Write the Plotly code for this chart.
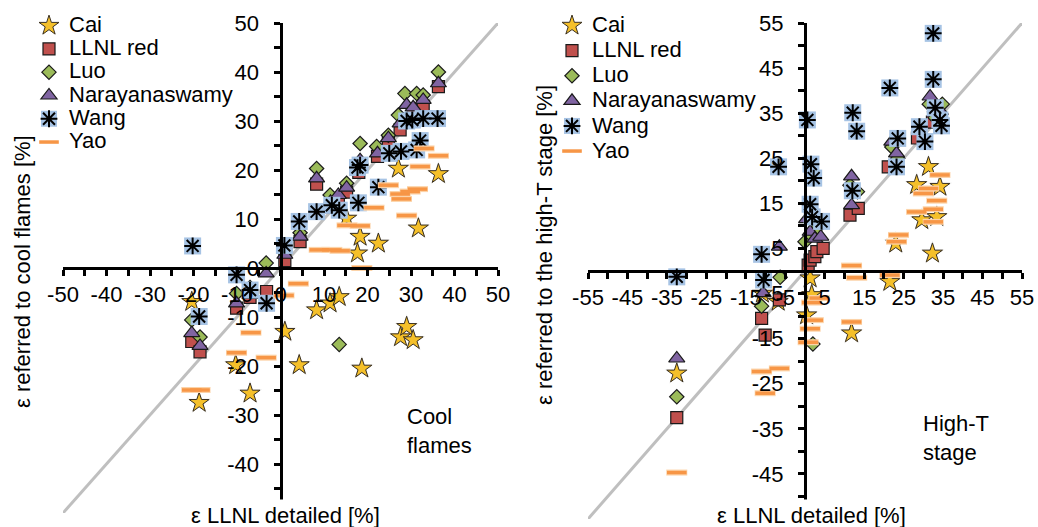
import plotly.graph_objects as go

W, H = 1038, 527
FONT = "Liberation Sans, Arial, sans-serif"

# ---------------- data: cool flames (left) ----------------
cf_cai_x = [-20.4, -18.7, -10.3, -7.0, 1.0, 4.3, 8.3, 11.4, 13.5, 15.2, 17.7, 18.3, 18.7, 22.5, 27.1, 27.6, 29.0, 30.5, 31.7, 36.3]
cf_cai_y = [-6.9, -27.5, -19.8, -25.6, -13.0, -19.8, -8.6, -7.2, -5.9, 10.1, 3.0, 6.4, -20.5, 5.0, 20.3, -14.1, -12.0, -14.7, 8.1, 19.2]

cf_llnl_x = [-20.4, -18.5, -10.1, -7.0, -3.2, 1.0, 4.5, 8.3, 11.5, 13.3, 15.2, 18.0, 22.3, 24.8, 27.5, 29.0, 30.5, 32.8, 36.3]
cf_llnl_y = [-15.0, -17.1, -8.2, -6.0, -4.8, 1.5, 5.4, 17.1, 12.5, 13.5, 15.5, 19.5, 22.8, 26.0, 28.2, 30.5, 32.0, 33.0, 37.0]

cf_luo_x = [-20.4, -18.5, -10.1, -7.0, -3.3, 1.0, 4.5, 8.3, 11.4, 13.5, 15.2, 18.3, 22.1, 24.8, 27.1, 28.6, 31.3, 32.8, 36.3]
cf_luo_y = [-10.6, -14.1, -5.2, -4.0, 1.0, 4.0, 7.2, 20.3, 14.9, -15.6, 17.3, 25.4, 24.8, 27.1, 31.2, 35.6, 35.6, 35.3, 40.0]

cf_nara_x = [-20.4, -18.5, -10.1, -7.0, -3.3, 1.0, 4.5, 8.3, 11.5, 13.3, 15.2, 18.3, 22.3, 24.8, 27.5, 29.0, 30.5, 32.8, 36.3]
cf_nara_y = [-13.3, -15.9, -7.2, -5.5, -1.1, 2.7, 6.4, 18.3, 13.5, 14.9, 16.4, 22.0, 23.4, 26.5, 29.5, 33.3, 32.8, 34.3, 37.7]

cf_wang_x = [-20.2, -18.7, -10.1, -7.0, -3.2, 0.9, 4.3, 8.3, 11.8, 13.5, 17.9, 17.7, 18.3, 22.5, 25.0, 27.7, 29.0, 30.3, 31.3, 32.1, 32.8, 36.1]
cf_wang_y = [4.5, -9.9, -1.4, -4.5, -7.2, 4.6, 9.5, 11.5, 12.8, 11.8, 13.3, 20.5, 21.0, 16.5, 23.4, 23.8, 30.0, 30.2, 24.1, 26.0, 30.5, 30.5]

cf_yao_x = [-20.4, -18.5, -10.1, -6.8, -3.3, 0.8, 4.1, 8.9, 11.8, 13.7, 15.3, 18.3, 18.7, 21.5, 24.8, 27.5, 27.8, 29.0, 29.8, 31.5, 32.1, 33.0, 36.3]
cf_yao_y = [-24.9, -24.9, -17.3, -13.2, -18.3, -5.6, -3.2, 3.7, 3.7, 3.5, 8.7, 8.6, 0.0, 12.3, 16.9, 15.1, 14.1, 10.7, 15.6, 16.1, 20.7, 24.4, 22.9]

# ---------------- data: high-T stage (right) ----------------
ht_cai_x = [-32.5, -10.8, -6.8, 0.4, 1.3, 1.7, 11.8, 21.5, 23.0, 28.3, 29.6, 31.3, 32.3, 33.4, 34.2]
ht_cai_y = [-22.7, -5.0, -6.8, -9.8, -1.6, -5.3, -13.8, -2.4, 6.1, 19.1, 11.3, 23.1, 3.9, 12.0, 18.7]

ht_llnl_x = [-32.5, -11.0, -10.1, -6.5, 0.8, 1.3, 2.5, 3.0, 4.6, 11.4, 13.5, 21.1, 28.5, 32.3, 34.5]
ht_llnl_y = [-32.5, -10.5, -14.2, -6.4, 1.3, 2.4, 3.2, 4.3, 5.0, 12.4, 13.9, 23.1, 29.5, 33.0, 33.5]

ht_luo_x = [-32.5, -11.0, -6.3, 2.0, 0.0, 1.5, 3.0, 11.4, 13.3, 22.0, 23.5, 31.5, 33.0, 34.8]
ht_luo_y = [-27.9, -7.8, -1.4, -16.2, 6.5, 8.0, 9.5, 19.0, 17.6, 27.5, 25.0, 37.0, 34.0, 37.0]

ht_nara_x = [-32.5, -10.6, -6.5, 0.4, 1.3, 2.5, 4.0, 11.8, 11.8, 22.0, 23.2, 31.7, 33.0, 34.3]
ht_nara_y = [-19.4, -4.9, 5.4, 11.5, 8.7, 7.2, 7.6, 21.0, 14.6, 28.7, 26.1, 38.7, 36.0, 35.5]

ht_wang_x = [-32.5, -11.0, -10.5, -6.7, 0.6, 1.5, 2.2, 1.3, 1.8, 4.2, 12.1, 13.1, 12.0, 21.5, 23.5, 23.2, 29.0, 30.4, 32.5, 32.5, 33.0, 34.2, 34.6]
ht_wang_y = [-1.3, 3.7, -2.0, 23.1, 33.5, 23.7, 20.6, 14.8, 12.0, 11.0, 35.1, 31.0, 17.8, 40.6, 29.4, 23.1, 32.0, 28.7, 52.7, 42.5, 36.2, 33.5, 32.2]

ht_yao_x = [-32.5, -11.0, -10.1, -6.5, 0.8, 1.3, 2.1, 1.7, 3.6, 11.8, 13.1, 11.8, 21.5, 23.2, 23.7, 28.3, 30.0, 31.3, 32.5, 32.5, 33.4, 34.2]
ht_yao_y = [-44.7, -22.3, -27.1, -21.6, -15.8, -12.8, -10.9, -7.0, -6.0, 1.2, -1.5, -11.3, -0.9, 6.5, 8.0, 13.1, 17.2, 18.3, 13.7, 10.9, 15.6, 21.3]

series_names = ["Cai", "LLNL red", "Luo", "Narayanaswamy", "Wang", "Yao"]
left_range = [-50, 50]
right_range = [-55, 55]
left_xticks = [-50, -40, -30, -20, -10, 0, 10, 20, 30, 40, 50]
left_yticks = [-40, -30, -20, -10, 0, 10, 20, 30, 40, 50]
right_xticks = [-55, -45, -35, -25, -15, -5, 5, 15, 25, 35, 45, 55]
right_yticks = [-45, -35, -25, -15, -5, 5, 15, 25, 35, 45, 55]

OUT = "#1a1a1a"
LEG_FS = [15.6, 17.0]          # legend row-height font sizes (left, right)
LEG_POS = [(29, 9), (552, 8)]  # legend top-left in pixels (left, right)


def legend_name(n):
    return '<span style="font-size:22px">' + n + '</span>'


def add_panel(fig, xa, ya, legend, wang_legend, data, diag):
    (cai, llnl, luo, nara, wang, yao) = data
    fig.add_trace(go.Scatter(x=diag, y=diag, mode="lines", xaxis=xa, yaxis=ya,
                             line=dict(color="#BFBFBF", width=3), showlegend=False, hoverinfo="skip"))
    fig.add_trace(go.Scatter(x=cai[0], y=cai[1], mode="markers", xaxis=xa, yaxis=ya,
                             showlegend=False, hoverinfo="skip",
                             marker=dict(symbol="star", size=18, color="rgba(170,170,170,0.30)",
                                         line=dict(width=0))))
    fig.add_trace(go.Scatter(x=cai[0], y=cai[1], mode="markers", xaxis=xa, yaxis=ya,
                             name=legend_name(series_names[0]), legend=legend,
                             marker=dict(symbol="star", size=15, color="#F5C02A",
                                         line=dict(color="#3a3020", width=1))))
    fig.add_trace(go.Scatter(x=llnl[0], y=llnl[1], mode="markers", xaxis=xa, yaxis=ya,
                             name=legend_name(series_names[1]), legend=legend,
                             marker=dict(symbol="square", size=12, color="#C0504D",
                                         line=dict(color=OUT, width=1.2))))
    fig.add_trace(go.Scatter(x=luo[0], y=luo[1], mode="markers", xaxis=xa, yaxis=ya,
                             name=legend_name(series_names[2]), legend=legend,
                             marker=dict(symbol="diamond", size=11, color="#9BBB59",
                                         line=dict(color=OUT, width=1.2))))
    fig.add_trace(go.Scatter(x=nara[0], y=nara[1], mode="markers", xaxis=xa, yaxis=ya,
                             name=legend_name(series_names[3]), legend=legend,
                             marker=dict(symbol="triangle-up", size=14, color="#8064A2",
                                         line=dict(color=OUT, width=1.2))))
    fig.add_trace(go.Scatter(x=wang[0], y=wang[1], mode="markers", xaxis=xa, yaxis=ya,
                             name=legend_name(series_names[4]), legend=legend,
                             marker=dict(symbol="square", size=17, color="#A6C3E4",
                                         line=dict(width=0))))
    fig.add_trace(go.Scatter(x=wang[0], y=wang[1], mode="markers", xaxis=xa, yaxis=ya,
                             name=" ", legend=wang_legend, hoverinfo="skip",
                             marker=dict(symbol="asterisk-open", size=14, color="#000000",
                                         line=dict(color="#000000", width=2))))
    fig.add_trace(go.Scatter(x=yao[0], y=yao[1], mode="markers", xaxis=xa, yaxis=ya,
                             showlegend=False, hoverinfo="skip",
                             marker=dict(symbol="line-ew-open", size=15, color="#FCD3A8",
                                         line=dict(color="#FCD3A8", width=6))))
    fig.add_trace(go.Scatter(x=yao[0], y=yao[1], mode="markers", xaxis=xa, yaxis=ya,
                             name=legend_name(series_names[5]), legend=legend,
                             marker=dict(symbol="line-ew-open", size=14, color="#F79646",
                                         line=dict(color="#F79646", width=3.5))))


fig = go.Figure()
add_panel(fig, "x", "y", "legend", "legend3",
          [(cf_cai_x, cf_cai_y), (cf_llnl_x, cf_llnl_y), (cf_luo_x, cf_luo_y),
           (cf_nara_x, cf_nara_y), (cf_wang_x, cf_wang_y), (cf_yao_x, cf_yao_y)],
          left_range)
add_panel(fig, "x2", "y2", "legend2", "legend4",
          [(ht_cai_x, ht_cai_y), (ht_llnl_x, ht_llnl_y), (ht_luo_x, ht_luo_y),
           (ht_nara_x, ht_nara_y), (ht_wang_x, ht_wang_y), (ht_yao_x, ht_yao_y)],
          right_range)


def px_x(p):
    return p / W


def px_y(p):
    return 1 - p / H


tickfont = dict(family=FONT, size=22, color="#000000")


def axis(rng, ticks, dom, pos, t0, standoff):
    return dict(range=rng, domain=dom, position=pos, anchor="free", automargin=False,
                showgrid=False, zeroline=False, showline=True, linecolor="#000000", linewidth=3,
                ticks="outside", ticklen=6, tickwidth=2.5, tickcolor="#000000",
                ticklabelstandoff=standoff,
                tickfont=tickfont, tickmode="array", tickvals=ticks,
                ticktext=[str(v) for v in ticks],
                minor=dict(ticks="outside", ticklen=6, tickwidth=2.5, tickcolor="#000000",
                           tickmode="linear", tick0=t0, dtick=5, showgrid=False))


def legend_box(i, fs, row=0):
    x0, y0 = LEG_POS[i]
    h = fs * 1.3 + 3
    return dict(x=px_x(x0), y=px_y(y0 + row * h), xanchor="left", yanchor="top",
                bgcolor="rgba(0,0,0,0)", font=dict(family=FONT, size=fs), borderwidth=0)


fig.update_layout(
    template="none",
    width=W, height=H, autosize=False,
    margin=dict(l=0, r=0, t=0, b=0, autoexpand=False),
    paper_bgcolor="white", plot_bgcolor="rgba(0,0,0,0)",
    font=dict(family=FONT, size=22, color="#000000"),
    xaxis=axis(left_range, left_xticks, [px_x(63), px_x(498)], px_y(268), -50, 0),
    yaxis=axis(left_range, left_yticks, [px_y(513), px_y(23)], px_x(280.5), -50, 10),
    xaxis2=axis(right_range, right_xticks, [px_x(588), px_x(1022)], px_y(271), -55, 0),
    yaxis2=axis(right_range, right_yticks, [px_y(519), px_y(23)], px_x(805), -55, 10),
    legend=legend_box(0, LEG_FS[0]),
    legend2=legend_box(1, LEG_FS[1]),
    legend3=legend_box(0, LEG_FS[0], row=4),
    legend4=legend_box(1, LEG_FS[1], row=4),
)

annots = [
    dict(text="ε LLNL detailed [%]", x=px_x(285), y=px_y(515)),
    dict(text="ε LLNL detailed [%]", x=px_x(811), y=px_y(515)),
    dict(text="ε referred to cool flames [%]", x=px_x(22), y=px_y(272), textangle=-90),
    dict(text="ε referred to the high-T stage [%]", x=px_x(545), y=px_y(245), textangle=-90),
    dict(text="Cool<br>flames", x=px_x(405), y=px_y(431), align="left", xanchor="left"),
    dict(text="High-T<br>stage", x=px_x(921), y=px_y(438), align="left", xanchor="left"),
]
for a in annots:
    a.setdefault("xanchor", "center")
    a["yanchor"] = "middle"
    a["xref"] = "paper"
    a["yref"] = "paper"
    a["showarrow"] = False
    a["font"] = dict(family=FONT, size=22, color="#000000")
for a in annots[:2]:
    a["bgcolor"] = "white"
    a["borderpad"] = 3
fig.update_layout(annotations=annots)

fig.write_html("out.html")
